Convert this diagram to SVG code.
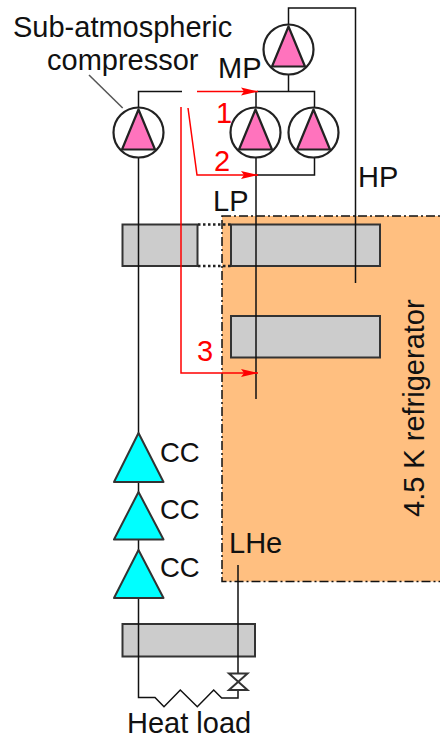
<svg xmlns="http://www.w3.org/2000/svg" width="440" height="739" viewBox="0 0 440 739">
<style>
text{font-family:"Liberation Sans",Arial,sans-serif;font-size:29px;fill:#111}
.cct{font-size:27.500px}
.red{fill:#f00}
.l{fill:none;stroke:#111;stroke-width:1.5}
.d{fill:none;stroke:#222;stroke-width:2.500;stroke-dasharray:2.500 2.500}
.r{fill:none;stroke:#f00;stroke-width:1.5}
.hx{fill:#ccc;stroke:#333;stroke-width:2}
.c{fill:#fff;stroke:#222;stroke-width:2.2}
.t{fill:#ff73bd;stroke:#222;stroke-width:2.2;stroke-linejoin:round}
.cc{fill:#0ff;stroke:#333;stroke-width:2;stroke-linejoin:round}
</style>
<defs>
<marker id="a" markerUnits="userSpaceOnUse" markerWidth="18" markerHeight="10" refX="17" refY="5" orient="auto"><path d="M0 1L17 5L0 9L3 5Z" fill="#f00"/></marker>
<g id="comp"><circle class="c" r="25"/><path class="t" d="M0 -23L-16.500 17H16.500Z"/></g>
</defs>
<g id="refrigerator"><rect x="222" y="216" width="219" height="365.500" fill="#ffbf80" stroke="#111" stroke-width="1.500" stroke-dasharray="9 3 2 3"/>
<text transform="translate(424,517) rotate(-90)">4.5 K refrigerator</text></g>
<g id="hx1"><rect class="hx" x="122.500" y="224.500" width="75" height="41.500"/></g>
<g id="hx2"><rect class="hx" x="231" y="224.500" width="149" height="41.500"/></g>
<g id="hx3"><rect class="hx" x="231" y="316" width="149" height="41.500"/></g>
<g id="hx4"><rect class="hx" x="122.500" y="624" width="132.500" height="32.500"/></g>
<g id="connectors">
<path class="d" d="M198 224.500H231M198 266H231"/>
<path class="l" d="M138.500 157V697.500H155L164 706.700L180.300 690L197.300 706.700L213.700 690L221.700 698H238V565"/>
<path class="l" d="M138.500 107V91.500H182M257 91.500H314.500V107M288.500 91.500V75M288.500 24V8H355.500V283M256 91.500V107M256 157V399M314.500 157V175H257"/>
<path class="l" style="stroke:#555" d="M89 75L122.700 108"/>
<path class="r" marker-end="url(#a)" d="M197 91.500H258"/>
<path class="r" marker-end="url(#a)" d="M188 108L197 175H258"/>
<path class="r" marker-end="url(#a)" d="M181 107V373H258"/>
</g>
<g id="sub-compressor"><use href="#comp" x="138.500" y="132.500"/></g>
<g id="mp-compressor-1"><use href="#comp" x="255.500" y="132.500"/></g>
<g id="mp-compressor-2"><use href="#comp" x="313.500" y="132.500"/></g>
<g id="hp-compressor"><use href="#comp" x="288.500" y="49.500"/></g>
<g id="cc1"><path class="cc" d="M138.500 433L114 482H163.500Z"/><text class="cct" x="160" y="462">CC</text></g>
<g id="cc2"><path class="cc" d="M138.500 492L114 539.500H163.500Z"/><text class="cct" x="160" y="519">CC</text></g>
<g id="cc3"><path class="cc" d="M138.500 550L114 598H163.500Z"/><text class="cct" x="160" y="577">CC</text></g>
<g id="valve"><path d="M229 673.500H247.500L229 690H247.500Z" fill="#fff" stroke="#333" stroke-width="2"/></g>
<g id="labels">
<text x="13" y="37">Sub-atmospheric</text>
<text x="47" y="70">compressor</text>
<text x="218" y="78">MP</text>
<text x="358" y="187">HP</text>
<text x="213" y="211">LP</text>
<text x="229" y="553">LHe</text>
<text x="127" y="733">Heat load</text>
<text class="red" x="216" y="123">1</text>
<text class="red" x="214" y="171">2</text>
<text class="red" x="197" y="361">3</text>
</g>
</svg>
